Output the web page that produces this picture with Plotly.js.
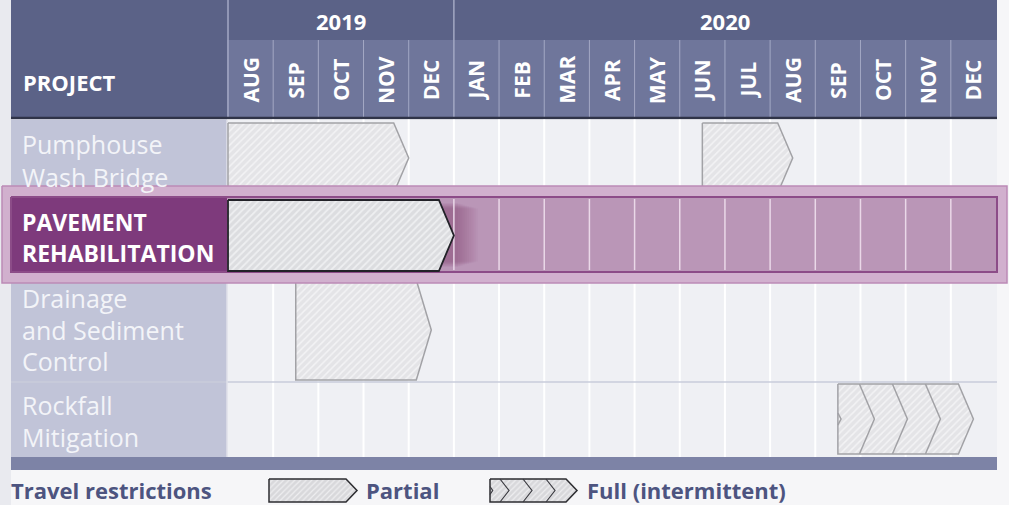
<!DOCTYPE html>
<html>
<head>
<meta charset="utf-8">
<script src="https://cdn.plot.ly/plotly-3.0.1.min.js"></script>
<style>
html,body{margin:0;padding:0;background:#f6f6f8;}
#chart{width:1009px;height:505px;}
</style>
</head>
<body>
<div id="chart"></div>
<script>
// ---------------- DATA ----------------
const months = ['AUG','SEP','OCT','NOV','DEC','JAN','FEB','MAR','APR','MAY','JUN','JUL','AUG','SEP','OCT','NOV','DEC'];
const years = ['2019','2020'];
const yearStartMonth = [0, 5];
const yearEndMonth = [5, 17];
const projects = ['Pumphouse<br>Wash Bridge', 'PAVEMENT<br>REHABILITATION', 'Drainage<br>and Sediment<br>Control', 'Rockfall<br>Mitigation'];
const highlightedProject = 1;
// bars: month index 0 = AUG 2019 start
const barProject = [0, 0, 1, 2, 3];
const barStart   = [0, 10.5, 0, 1.5, 13.5];
const barEnd     = [4, 12.5, 5, 4.5, 16.5];
const barType    = ['Partial', 'Partial', 'Partial', 'Partial', 'Full (intermittent)'];
const legendTitle = 'Travel restrictions';
const legendTypes = ['Partial', 'Full (intermittent)'];

// ---------------- LAYOUT CONSTANTS ----------------
const W = 1009, H = 505;
const X0 = 228, X1 = 996;                 // pixel span of month grid
const PXM = (X1 - X0) / months.length;    // pixels per month
const m = px => (px - X0) / PXM;          // pixel -> month units
const px = mo => X0 + mo * PXM;
const TL = 11, TR = 997, LC = 227;        // table left/right, label column right
const rowTop = [123, 200, 280, 384];
const rowBot = [193, 271, 380, 454];
const rowLabelY = [[144, 177], [222, 253], [298, 330, 361], [405, 437]];
const TIP = 15;                            // chevron depth (px)
const FONT = '"Open Sans", "Noto Sans", sans-serif';

const shapes = [];
const P = x => x / W;
function rect(x0, x1, y0, y1, fill, line, lw) {
  shapes.push({type:'rect', xref:'paper', yref:'y', x0:P(x0), x1:P(x1), y0:y0, y1:y1,
    fillcolor: fill, line: {color: line || 'rgba(0,0,0,0)', width: lw || 0}, layer:'below'});
}
function seg(x0, y0, x1, y1, color, w) {
  shapes.push({type:'line', xref:'paper', yref:'y', x0:P(x0), x1:P(x1), y0:y0, y1:y1,
    line:{color:color, width:w}, layer:'below'});
}

// page edge tint
rect(0, TL, 0, H, '#e9eaef');
// header
rect(TL, TR, 0, 118, '#5b6287');
rect(LC, TR, 40, 118, '#6f769b');
for (let i = 0; i <= months.length; i++) {
  const x = px(i);
  if (i === 0 || yearStartMonth.includes(i)) seg(x, 0, x, 118, '#a3a8c4', 1.5);
  else if (i < months.length) seg(x, 40, x, 118, '#a3a8c4', 1);
}
seg(TL, 118, TR, 118, '#2f3347', 2.5);
// label column and grid area body
rect(TL, LC, 119.5, 457, '#c1c4d8');
rect(LC, TR, 119.5, 457, '#eff0f4');
for (let i = 1; i < months.length; i++) seg(px(i), 119.5, px(i), 457, '#ffffff', 2);
seg(TL, 382, TR, 382, '#c9ccdb', 1.5);
seg(LC, 120, LC, 457, '#dfe1ea', 1.5);
// bottom band
rect(TL, TR, 457, 470, '#7d83a6');

// ---------------- TRACES ----------------
const traces = [];
const hatch = {shape:'/', bgcolor:'#e4e4e7', fgcolor:'#f3f3f5', size:5, solidity:0.3};
function poly(xs, ys, fill, lineColor, lw, pattern) {
  const t = {type:'scatter', mode:'lines', x:xs.concat([xs[0]]), y:ys.concat([ys[0]]), fill:'toself',
    fillcolor: fill, line:{color: lineColor || 'rgba(0,0,0,0)', width: lw || 0},
    hoverinfo:'skip', showlegend:false};
  if (pattern) t.fillpattern = pattern;
  traces.push(t);
}
function polyline(xs, ys, color, w) {
  traces.push({type:'scatter', mode:'lines', x:xs, y:ys, line:{color:color, width:w},
    hoverinfo:'skip', showlegend:false});
}
function chevronBar(s, e, top, bot, type, lineColor, lw, pattern) {
  const d = TIP / PXM;
  const mid = (top + bot) / 2;
  poly([s, e - d, e, e - d, s], [top, top, mid, bot, bot], '#e4e4e7', lineColor, lw, pattern || hatch);
  if (type === 'Full (intermittent)') {
    const spacing = 33 / PXM;
    const xs = [], ys = [];
    for (let k = 1; k <= 3; k++) {
      const b = e - d - k * spacing;
      xs.push(b, b + d, b, null); ys.push(top, mid, bot, null);
    }
    // small notch at the back edge
    xs.push(s, s + 0.07, s); ys.push(mid - 6, mid, mid + 6);
    polyline(xs, ys, lineColor, lw);
  }
}

// bars on normal rows first
for (let i = 0; i < barStart.length; i++) {
  if (barProject[i] === highlightedProject) continue;
  const r = barProject[i];
  chevronBar(barStart[i], barEnd[i], rowTop[r], rowBot[r], barType[i], '#a2a2a6', 1.5);
}

// highlighted row overlay
poly([m(2), m(1007), m(1007), m(2)], [186, 186, 283, 283], '#d1b0ce', '#bc8ab7', 1.5);
poly([m(TL), m(LC), m(LC), m(TL)], [197, 197, 272, 272], '#7e3a7c');
poly([m(LC), m(TR), m(TR), m(LC)], [197, 197, 272, 272], '#ba96b7');
// soft shadow behind the highlighted bar tip (stacked translucent layers)
for (let k = 0; k < 10; k++) {
  const ext = 2 + k * 2.2, ins = k * 0.6;
  poly([m(440), m(456 + ext), m(456 + ext), m(440)], [203 + ins, 203 + ins, 267 - ins, 267 - ins], 'rgba(105,35,100,0.045)');
}
{
  const xs = [], ys = [];
  for (let i = 1; i < months.length; i++) { xs.push(i, i, null); ys.push(199, 270, null); }
  polyline(xs, ys, '#ead8e8', 1.5);
}
polyline([m(TL), m(TR), m(TR), m(TL), m(TL)], [197, 197, 272, 272, 197], '#8c4c88', 2);

// highlighted bar(s)
for (let i = 0; i < barStart.length; i++) {
  if (barProject[i] !== highlightedProject) continue;
  const r = barProject[i];
  chevronBar(barStart[i], barEnd[i], rowTop[r], rowBot[r], barType[i], '#222228', 1.8,
    {shape:'/', bgcolor:'#dcdde0', fgcolor:'#eeeff1', size:5, solidity:0.35});
}

// legend icons
const legIconX = [[269, 357], [490, 577]];
legendTypes.forEach((t, k) => {
  const s = m(legIconX[k][0]), e = m(legIconX[k][1]);
  const top = 479, bot = 502, mid = 490.5, d = 11 / PXM;
  poly([s, e - d, e, e - d, s], [top, top, mid, bot, bot], '#dcdcdf', '#2c2c30', 1.5,
       {shape:'/', bgcolor:'#d8d8db', fgcolor:'#eeeef0', size:4, solidity:0.3});
  if (t === 'Full (intermittent)') {
    const sp = 23 / PXM, dd = 9 / PXM;
    const xs = [], ys = [];
    for (let j = 1; j <= 3; j++) {
      const b = e - d - j * sp + 3 / PXM;
      xs.push(b, b + dd, b, null); ys.push(top, mid, bot, null);
    }
    xs.push(s, s + 0.06, s); ys.push(mid - 4, mid, mid + 4);
    polyline(xs, ys, '#3a3a40', 1.2);
  }
});

// ---------------- TEXT ----------------
const ann = [];
function text(x, y, t, size, color, bold, anchor, angle) {
  ann.push({xref:'paper', yref:'y', x:P(x), y:y, text: bold ? '<b>' + t + '</b>' : t, showarrow:false,
    xanchor: anchor || 'left', yanchor:'middle', textangle: angle || 0, borderpad:0,
    font:{family:FONT, size:size, color:color}});
}
text(22, 82, 'PROJECT', 22, '#ffffff', true);
years.forEach((y, k) => text((px(yearStartMonth[k]) + px(yearEndMonth[k])) / 2, 21, y, 22, '#ffffff', true, 'center'));
months.forEach((mo, i) => text(px(i + 0.5), 80, mo, 21, '#ffffff', true, 'center', -90));
projects.forEach((p, r) => {
  const lines = p.split('<br>');
  const hl = r === highlightedProject;
  lines.forEach((ln, j) => text(21, rowLabelY[r][j], ln, hl ? 23 : 25, hl ? '#ffffff' : '#f3f4f8', hl));
});
text(10, 490, legendTitle, 22, '#4d5480', true);
text(365, 490, legendTypes[0], 22, '#4d5480', true);
text(586, 490, legendTypes[1], 22, '#4d5480', true);

const layout = {
  width: W, height: H,
  margin: {l:0, r:0, t:0, b:0, pad:0},
  paper_bgcolor: '#f6f6f8', plot_bgcolor: 'rgba(0,0,0,0)',
  showlegend: false,
  xaxis: {range:[m(0), m(W)], domain:[0,1], visible:false, fixedrange:true, showgrid:false, zeroline:false},
  yaxis: {range:[H, 0], domain:[0,1], visible:false, fixedrange:true, showgrid:false, zeroline:false},
  shapes: shapes,
  annotations: ann
};
Plotly.newPlot('chart', traces, layout, {staticPlot:true, displayModeBar:false});
</script>
</body>
</html>
